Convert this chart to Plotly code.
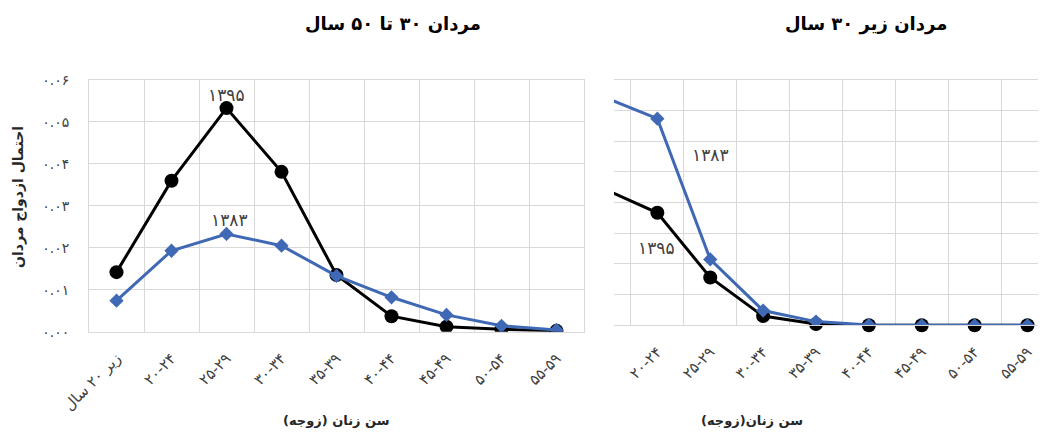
import plotly.graph_objects as go

# ---- data ----
categories = ["زیر ۲۰ سال", "۲۰-۲۴", "۲۵-۲۹", "۳۰-۳۴", "۳۵-۳۹", "۴۰-۴۴", "۴۵-۴۹", "۵۰-۵۴", "۵۵-۵۹"]

# men 30-50 (left panel)
left_1395 = [0.0142, 0.0360, 0.0533, 0.0381, 0.0135, 0.0037, 0.0012, 0.0006, 0.0002]
left_1383 = [0.0074, 0.0193, 0.0233, 0.0205, 0.0133, 0.0082, 0.0040, 0.0014, 0.0004]

# men under 30 (right panel)
right_1383 = [0.0744, 0.0674, 0.0215, 0.0048, 0.0012, 0.0001, 0.0, 0.0, 0.0]
right_1395 = [0.0444, 0.0367, 0.0156, 0.0030, 0.0004, 0.0, 0.0, 0.0, 0.0]

y_left_ticks = [0, 0.01, 0.02, 0.03, 0.04, 0.05, 0.06]
y_left_text = ["۰.۰۰", "۰.۰۱", "۰.۰۲", "۰.۰۳", "۰.۰۴", "۰.۰۵", "۰.۰۶"]
y_right_ticks = [0, 0.01, 0.02, 0.03, 0.04, 0.05, 0.06, 0.07, 0.08]

title_left = "مردان ۳۰ تا ۵۰ سال"
title_right = "مردان زیر ۳۰ سال"
xtitle_left = "سن زنان (زوجه)\u200f"
xtitle_right = "سن زنان(زوجه)\u200f"
ytitle = "احتمال ازدواج مردان"
lbl_1395 = "۱۳۹۵"
lbl_1383 = "۱۳۸۳"

FONT = "DejaVu Sans"
OFF = 8  # page body margin
W, H = 1046 - OFF, 435 - OFF
BLACK = "#000000"
BLUE = "#3F68B5"
GRID = "#d9d9d9"
TICKC = "#404040"


def px_x(p):
    return (p - OFF) / W


def px_y(p):
    return 1 - (p - OFF) / H


fig = go.Figure()

# left panel
fig.add_trace(go.Scatter(x=categories, y=left_1395, mode="lines+markers",
                         line=dict(color=BLACK, width=3),
                         marker=dict(symbol="circle", size=14, color=BLACK),
                         xaxis="x", yaxis="y", showlegend=False))
fig.add_trace(go.Scatter(x=categories, y=left_1383, mode="lines+markers",
                         line=dict(color=BLUE, width=3),
                         marker=dict(symbol="diamond", size=11, color=BLUE),
                         xaxis="x", yaxis="y", showlegend=False))
# right panel
fig.add_trace(go.Scatter(x=categories, y=right_1395, mode="lines+markers",
                         line=dict(color=BLACK, width=3),
                         marker=dict(symbol="circle", size=14, color=BLACK),
                         xaxis="x2", yaxis="y2", showlegend=False, cliponaxis=False))
fig.add_trace(go.Scatter(x=categories, y=right_1383, mode="lines+markers",
                         line=dict(color=BLUE, width=3),
                         marker=dict(symbol="diamond", size=11, color=BLUE),
                         xaxis="x2", yaxis="y2", showlegend=False, cliponaxis=True))

xcommon = dict(type="category", tickson="boundaries", showgrid=True, gridcolor=GRID,
               gridwidth=1, tickangle=-45, ticks="", ticklabelstandoff=11,
               tickfont=dict(family=FONT, size=15, color=TICKC), zeroline=False,
               showline=True, linecolor=GRID, linewidth=1, mirror=True,
               automargin=False,
               categoryorder="array", categoryarray=categories)

fig.update_layout(
    width=W, height=H,
    margin=dict(l=0, r=0, t=0, b=0, autoexpand=False),
    paper_bgcolor="white", plot_bgcolor="white",
    font=dict(family=FONT),
    xaxis=dict(domain=[px_x(89), px_x(584)], range=[-0.5, 8.5], anchor="y", **xcommon),
    yaxis=dict(domain=[px_y(331.7), px_y(80)], range=[0, 0.06], anchor="x",
               tickvals=y_left_ticks, ticktext=y_left_text, showgrid=True,
               gridcolor=GRID, gridwidth=1, zeroline=False, ticks="",
               ticklabelstandoff=16, automargin=False,
               tickfont=dict(family=FONT, size=14, color=TICKC),
               showline=True, linecolor=GRID, mirror=True),
    xaxis2=dict(domain=[px_x(614), 1.0], range=[0.18, 8.35], anchor="y2", **xcommon),
    yaxis2=dict(domain=[px_y(325.3), px_y(80)], range=[0, 0.08], anchor="x2",
                tickvals=y_right_ticks, showticklabels=False, showgrid=True,
                gridcolor=GRID, gridwidth=1, zeroline=False, ticks="",
                automargin=False, showline=False),
)

ann = []
# titles
ann.append(dict(text="<b>%s</b>" % title_left, x=px_x(393), y=px_y(24), xref="paper", yref="paper",
                showarrow=False, font=dict(family=FONT, size=18, color="black"),
                xanchor="center", yanchor="middle"))
ann.append(dict(text="<b>%s</b>" % title_right, x=px_x(866), y=px_y(24), xref="paper", yref="paper",
                showarrow=False, font=dict(family=FONT, size=18, color="black"),
                xanchor="center", yanchor="middle"))
# axis titles
ann.append(dict(text="<b>%s</b>" % xtitle_left, x=px_x(336), y=px_y(420), xref="paper", yref="paper",
                showarrow=False, font=dict(family=FONT, size=13, color="#262626"),
                xanchor="center", yanchor="middle"))
ann.append(dict(text="<b>%s</b>" % xtitle_right, x=px_x(752), y=px_y(420), xref="paper", yref="paper",
                showarrow=False, font=dict(family=FONT, size=13, color="#262626"),
                xanchor="center", yanchor="middle"))
ann.append(dict(text="<b>%s</b>" % ytitle, x=px_x(18), y=px_y(197), xref="paper", yref="paper",
                showarrow=False, textangle=-90, font=dict(family=FONT, size=14, color="#262626"),
                xanchor="center", yanchor="middle"))
# series labels
lblfont = dict(family=FONT, size=17, color="#404040")
ann.append(dict(text=lbl_1395, x=2, y=0.0565, xref="x", yref="y", showarrow=False, font=lblfont))
ann.append(dict(text=lbl_1383, x=2.05, y=0.0267, xref="x", yref="y", showarrow=False, font=lblfont))
ann.append(dict(text=lbl_1383, x=2.0, y=0.0555, xref="x2", yref="y2", showarrow=False, font=lblfont))
ann.append(dict(text=lbl_1395, x=0.98, y=0.0252, xref="x2", yref="y2", showarrow=False, font=lblfont))

fig.update_layout(annotations=ann)

fig.write_html("out.html")
